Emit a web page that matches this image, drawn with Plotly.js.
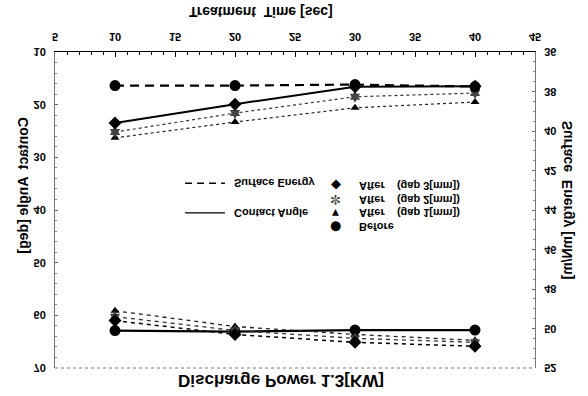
<!DOCTYPE html>
<html><head><meta charset="utf-8">
<script src="https://cdn.plot.ly/plotly-3.0.1.min.js"></script>
<style>html,body{margin:0;padding:0;background:#fff}#chart{width:588px;height:396px;transform:scaleY(-1);}</style>
</head><body><div id="chart"></div>
<script>
const treatmentTime = [10, 20, 30, 40];
const caBefore = [62.9, 63.1, 62.8, 62.8];
const caGap3 = [23.5, 19.9, 16.6, 16.5];
const caGap2 = [25.2, 21.6, 18.5, 17.8];
const caGap1 = [26.3, 23.3, 20.6, 19.5];
const seBefore = [37.7, 37.7, 37.65, 37.75];
const seGap3 = [49.6, 50.3, 50.7, 50.9];
const seGap2 = [49.4, 50.1, 50.5, 50.7];
const seGap1 = [49.1, 49.9, 50.3, 50.6];
const xTickVals = [5, 10, 15, 20, 25, 30, 35, 40, 45];
const leftTickVals = [10, 20, 30, 40, 50, 60, 70];
const rightTickVals = [36, 38, 40, 42, 44, 46, 48, 50, 52];
const legendLabels = ['After   (gap 3[mm])', 'After   (gap 2[mm])', 'After   (gap 1[mm])', 'Before'];
const legendSymbols = ['\u25C6', '\u273C', '\u25BC', '\u25CF'];
const lineLabels = ['Surface Energy', 'Contact Angle'];

const F = 'Liberation Sans, Arial, sans-serif';
const mk = (sym, size, col) => ({symbol: sym, size: size, color: col || '#000', line: {width: 0}});

const traces = [
  {x: treatmentTime, y: caBefore, yaxis: 'y', mode: 'lines+markers', line: {color: '#000', width: 2.2}, marker: mk('circle', 11)},
  {x: treatmentTime, y: caGap1, yaxis: 'y', mode: 'lines+markers', line: {color: '#222', width: 1.2, dash: 'dot'}, marker: mk('triangle-down', 8)},
  {x: treatmentTime, y: caGap2, yaxis: 'y', mode: 'lines+markers', line: {color: '#333', width: 1.2, dash: 'dot'}, marker: mk('hexagram', 9, '#444')},
  {x: treatmentTime, y: caGap3, yaxis: 'y', mode: 'lines+markers', line: {color: '#000', width: 2}, marker: mk('diamond', 10)},
  {x: treatmentTime, y: seBefore, yaxis: 'y2', mode: 'lines+markers', line: {color: '#000', width: 2.2, dash: '9px,6px'}, marker: mk('circle', 11)},
  {x: treatmentTime, y: seGap1, yaxis: 'y2', mode: 'lines+markers', line: {color: '#222', width: 1.3, dash: '4px,4px'}, marker: mk('triangle-down', 8)},
  {x: treatmentTime, y: seGap2, yaxis: 'y2', mode: 'lines+markers', line: {color: '#333', width: 1.3, dash: '4px,4px'}, marker: mk('hexagram', 9, '#444')},
  {x: treatmentTime, y: seGap3, yaxis: 'y2', mode: 'lines+markers', line: {color: '#000', width: 1.5, dash: '4px,4px'}, marker: mk('diamond', 10)}
];

const tf = {family: F, size: 11, color: '#000', weight: 'bold'};
const ann = (text, x, y, extra) => Object.assign({text: text, xref: 'paper', yref: 'paper', x: x, y: y, xanchor: 'center', yanchor: 'middle', showarrow: false, font: {family: F, size: 11, color: '#000', weight: 'bold'}}, extra || {});
const annotations = [
  ann('Treatment  Time [sec]', 0.429, -0.127, {font: {family: F, size: 14, color: '#000', weight: 'bold'}}),
  ann('Discharge Power 1.3[KW]', 0.471, 1.041, {font: {family: F, size: 17, color: '#000', weight: 'bold'}}),
  ann('Contact  Angle [deg]', -0.067, 0.421, {textangle: -90, font: {family: F, size: 14, color: '#000', weight: 'bold'}}),
  ann('Surface  Energy [mN/m]', 1.067, 0.468, {textangle: -90, font: {family: F, size: 14, color: '#000', weight: 'bold'}}),
  ann(lineLabels[0], 0.369, 0.415, {xanchor: 'left'}),
  ann(lineLabels[1], 0.369, 0.509, {xanchor: 'left'})
];
const legY = [0.424, 0.468, 0.509, 0.554];
legendLabels.forEach((t, i) => {
  annotations.push(ann(legendSymbols[i], 0.585, legY[i], {font: {family: 'DejaVu Sans', size: i === 2 ? 9 : 13, color: i === 1 ? '#444' : '#000'}}));
  annotations.push(ann(t.replace(/ {3}/g, '&nbsp;&nbsp;&nbsp;&nbsp;'), 0.629, legY[i], {xanchor: 'left'}));
});

const shapes = [
  {type: 'line', xref: 'paper', yref: 'paper', x0: 0.271, x1: 0.354, y0: 0.415, y1: 0.415, line: {color: '#000', width: 1.5, dash: '7px,5px'}},
  {type: 'line', xref: 'paper', yref: 'paper', x0: 0.271, x1: 0.354, y0: 0.509, y1: 0.509, line: {color: '#000', width: 1.2}},
  {type: 'line', xref: 'paper', yref: 'paper', x0: 0, x1: 1, y0: 1, y1: 1, line: {color: '#777', width: 1, dash: 'dot'}}
];

const layout = {
  width: 588, height: 396,
  margin: {l: 55, r: 53, t: 28, b: 52},
  paper_bgcolor: '#fff', plot_bgcolor: '#fff',
  showlegend: false,
  font: {family: F, color: '#000'},
  xaxis: {range: [5, 45], tickvals: xTickVals, ticks: 'inside', ticklen: 5, tickcolor: '#000', showgrid: false, zeroline: false,
    showline: true, linecolor: '#000', linewidth: 1.5, tickfont: tf, ticklabelstandoff: 4,
    minor: {dtick: 1, ticks: 'inside', ticklen: 3, tickcolor: '#000'}},
  yaxis: {range: [10, 70], tickvals: leftTickVals, ticks: 'inside', ticklen: 3, tickcolor: '#666', showgrid: false, zeroline: false,
    showline: true, linecolor: '#777', linewidth: 1, tickfont: tf, ticklabelstandoff: 6,
    minor: {dtick: 2, ticks: 'inside', ticklen: 2, tickcolor: '#888'}},
  yaxis2: {range: [36, 52], tickvals: rightTickVals, overlaying: 'y', side: 'right', ticks: 'inside', ticklen: 3, tickcolor: '#666', showgrid: false, zeroline: false,
    showline: true, linecolor: '#777', linewidth: 1, tickfont: tf, ticklabelstandoff: 6,
    minor: {dtick: 0.5, ticks: 'inside', ticklen: 2, tickcolor: '#888'}},
  annotations: annotations,
  shapes: shapes
};
Plotly.newPlot('chart', traces, layout, {displayModeBar: false, staticPlot: true});
</script></body></html>
